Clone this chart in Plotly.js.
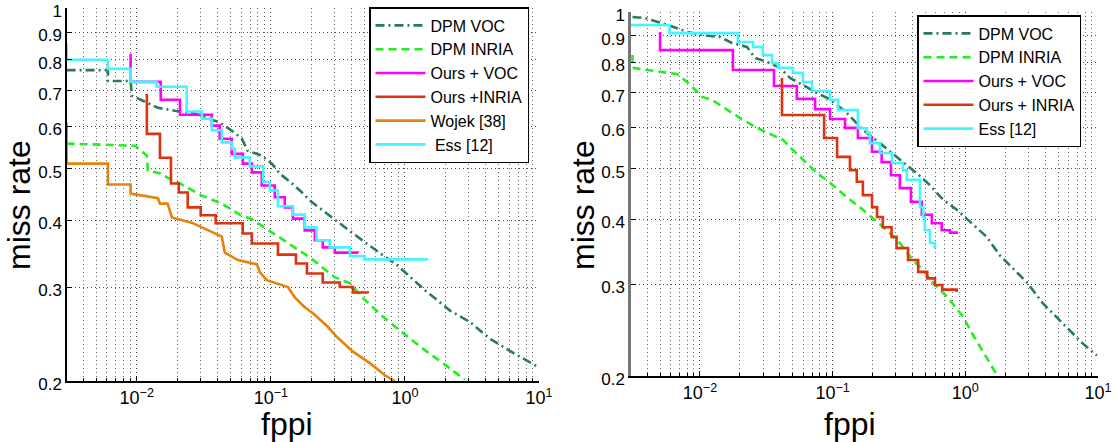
<!DOCTYPE html>
<html>
<head>
<meta charset="utf-8">
<script src="https://cdn.plot.ly/plotly-3.0.1.min.js"></script>
<style>html,body{margin:0;padding:0;background:#fff;}#chart{width:1116px;height:442px;}</style>
</head>
<body>
<div id="chart"></div>
<script>
// ---------- Left panel data ----------
const dpmVocL_x = [0.0030, 0.0061, 0.0061, 0.0090, 0.0092, 0.0144, 0.0192, 0.0262, 0.0416, 0.0512, 0.0608, 0.0672, 0.0856, 0.1017, 0.117, 0.144, 0.171, 0.195, 0.286, 0.410, 0.686, 0.871, 1.41, 2.17, 3.05, 4.31, 6.38, 9.7];
const dpmVocL_y = [0.765, 0.765, 0.730, 0.730, 0.685, 0.650, 0.642, 0.636, 0.610, 0.589, 0.569, 0.540, 0.529, 0.511, 0.489, 0.469, 0.451, 0.436, 0.405, 0.378, 0.344, 0.330, 0.296, 0.271, 0.258, 0.240, 0.226, 0.213];

const dpmInriaL_x = [0.0030, 0.0097, 0.0119, 0.0121, 0.0149, 0.0170, 0.0210, 0.0306, 0.0431, 0.0587, 0.0722, 0.0856, 0.102, 0.121, 0.158, 0.195, 0.300, 0.389, 0.479, 0.686, 0.967, 1.46, 2.07, 2.80];
const dpmInriaL_y = [0.557, 0.552, 0.529, 0.496, 0.490, 0.481, 0.469, 0.445, 0.430, 0.410, 0.402, 0.391, 0.380, 0.370, 0.354, 0.341, 0.313, 0.305, 0.287, 0.264, 0.246, 0.227, 0.213, 0.201];

const oursVocL_x = [0.009, 0.009, 0.0151, 0.021, 0.0363, 0.0416, 0.0512, 0.0619, 0.0722, 0.0856, 0.107, 0.127, 0.146, 0.179, 0.213, 0.244, 0.300, 0.444];
const oursVocL_y = [0.821, 0.727, 0.673, 0.631, 0.602, 0.569, 0.533, 0.511, 0.492, 0.465, 0.442, 0.423, 0.403, 0.383, 0.367, 0.356, 0.348, 0.347];

const oursInriaL_x = [0.0119, 0.0119, 0.0149, 0.018, 0.0206, 0.024, 0.030, 0.0388, 0.0617, 0.0722, 0.113, 0.154, 0.186, 0.244, 0.327, 0.41, 0.53];
const oursInriaL_y = [0.690, 0.581, 0.524, 0.469, 0.451, 0.423, 0.409, 0.395, 0.378, 0.362, 0.345, 0.332, 0.318, 0.306, 0.300, 0.293, 0.292];

const wojekL_x = [0.0030, 0.0030, 0.0061, 0.0061, 0.0090, 0.0090, 0.0144, 0.0149, 0.0170, 0.0183, 0.0257, 0.0306, 0.0363, 0.0431, 0.0454, 0.0567, 0.0786, 0.0828, 0.0933, 0.134, 0.151, 0.179, 0.206, 0.265, 0.31, 0.41, 0.548, 0.71, 0.84];
const wojekL_y = [0.610, 0.511, 0.511, 0.467, 0.467, 0.449, 0.440, 0.430, 0.430, 0.405, 0.396, 0.388, 0.380, 0.373, 0.348, 0.337, 0.331, 0.320, 0.309, 0.300, 0.287, 0.275, 0.268, 0.253, 0.242, 0.227, 0.216, 0.205, 0.200];

const essL_x = [0.0030, 0.0030, 0.0061, 0.0090, 0.0141, 0.0236, 0.0306, 0.0363, 0.0431, 0.0512, 0.0539, 0.0697, 0.0876, 0.0984, 0.113, 0.146, 0.179, 0.219, 0.275, 0.389, 0.50, 1.46];
const essL_y = [0.860, 0.800, 0.769, 0.727, 0.712, 0.640, 0.620, 0.590, 0.560, 0.545, 0.525, 0.505, 0.472, 0.455, 0.425, 0.410, 0.388, 0.367, 0.356, 0.343, 0.338, 0.337];

// ---------- Right panel data ----------
const dpmVocR_x = [0.0031, 0.0038, 0.0052, 0.0063, 0.0081, 0.0105, 0.0142, 0.0174, 0.0226, 0.0260, 0.0320, 0.0401, 0.0477, 0.0597, 0.0737, 0.0907, 0.108, 0.128, 0.170, 0.227, 0.303, 0.431, 0.541, 0.680, 0.863, 1.03, 1.45, 1.82, 2.90, 3.83, 5.42, 7.66, 9.8];
const dpmVocR_y = [0.978, 0.974, 0.952, 0.936, 0.915, 0.903, 0.895, 0.872, 0.857, 0.816, 0.802, 0.781, 0.747, 0.724, 0.702, 0.684, 0.663, 0.640, 0.593, 0.560, 0.527, 0.490, 0.465, 0.436, 0.417, 0.400, 0.370, 0.341, 0.303, 0.276, 0.253, 0.231, 0.219];

const dpmInriaR_x = [0.0031, 0.0031, 0.0040, 0.0053, 0.0067, 0.0080, 0.0089, 0.0104, 0.0123, 0.0149, 0.0200, 0.0269, 0.0355, 0.0422, 0.0502, 0.0597, 0.0761, 0.0955, 0.128, 0.169, 0.201, 0.256, 0.321, 0.402, 0.478, 0.569, 0.728, 0.96, 1.14, 1.40, 1.73];
const dpmInriaR_y = [0.827, 0.781, 0.774, 0.767, 0.760, 0.734, 0.714, 0.687, 0.678, 0.657, 0.626, 0.599, 0.580, 0.568, 0.543, 0.520, 0.491, 0.470, 0.441, 0.417, 0.402, 0.381, 0.360, 0.334, 0.320, 0.302, 0.284, 0.260, 0.240, 0.220, 0.201];

const oursVocR_x = [0.0050, 0.0050, 0.0177, 0.0361, 0.0537, 0.0737, 0.0955, 0.124, 0.155, 0.198, 0.234, 0.275, 0.321, 0.389, 0.470, 0.559, 0.664, 0.766, 0.88];
const oursVocR_y = [0.915, 0.845, 0.774, 0.721, 0.681, 0.651, 0.623, 0.599, 0.573, 0.539, 0.515, 0.486, 0.459, 0.432, 0.408, 0.393, 0.381, 0.377, 0.377];

const oursInriaR_x = [0.0415, 0.0415, 0.0862, 0.108, 0.135, 0.152, 0.169, 0.198, 0.216, 0.239, 0.278, 0.303, 0.370, 0.441, 0.516, 0.59, 0.67, 0.86];
const oursInriaR_y = [0.747, 0.634, 0.573, 0.527, 0.497, 0.472, 0.445, 0.422, 0.404, 0.386, 0.370, 0.352, 0.334, 0.317, 0.308, 0.299, 0.293, 0.290];

const essR_x = [0.0030, 0.0059, 0.0193, 0.0251, 0.0298, 0.0349, 0.0387, 0.0502, 0.0597, 0.0698, 0.0955, 0.110, 0.155, 0.181, 0.191, 0.227, 0.280, 0.338, 0.362, 0.455, 0.48, 0.495, 0.541, 0.59];
const essR_y = [0.944, 0.911, 0.876, 0.857, 0.827, 0.798, 0.781, 0.764, 0.734, 0.705, 0.678, 0.648, 0.598, 0.586, 0.560, 0.536, 0.513, 0.497, 0.476, 0.422, 0.404, 0.381, 0.360, 0.352];

// ---------- Ticks / labels ----------
const xTickVals = [0.01, 0.1, 1, 10];
const xTickText = ['10<sup>−2</sup>', '10<sup>−1</sup>', '10<sup>0</sup>', '10<sup>1</sup>'];
const xMinorVals = [0.004,0.005,0.006,0.007,0.008,0.009, 0.02,0.03,0.04,0.05,0.06,0.07,0.08,0.09, 0.2,0.3,0.4,0.5,0.6,0.7,0.8,0.9, 2,3,4,5,6,7,8,9];
const yTickVals = [0.2,0.3,0.4,0.5,0.6,0.7,0.8,0.9,1];
const yTickText = ['0.2','0.3','0.4','0.5','0.6','0.7','0.8','0.9','1'];

const namesL = ['DPM VOC', 'DPM INRIA', 'Ours + VOC', 'Ours +INRIA', 'Wojek [38]', '\u00a0Ess [12]'];
const namesR = ['DPM VOC', 'DPM INRIA', 'Ours + VOC', 'Ours + INRIA', 'Ess [12]'];

const C = {
  dpmVoc: '#2b7a58', dpmInria: '#22ee22', oursVoc: '#ff00ff',
  oursInria: '#dd3311', wojek: '#e8820c', ess: '#44f4ff'
};
const W = 2.6;

function tr(x, y, name, color, dash, shape, xa, ya, lg) {
  return {
    x: x, y: y, name: name, type: 'scatter', mode: 'lines',
    line: {color: color, width: W, dash: dash, shape: shape},
    xaxis: xa, yaxis: ya, legend: lg, hoverinfo: 'x+y+name'
  };
}

const traces = [
  tr(dpmVocL_x, dpmVocL_y, namesL[0], C.dpmVoc, '9px,4px,2px,4px', 'linear', 'x', 'y', 'legend'),
  tr(dpmInriaL_x, dpmInriaL_y, namesL[1], C.dpmInria, '8px,5px', 'linear', 'x', 'y', 'legend'),
  tr(oursVocL_x, oursVocL_y, namesL[2], C.oursVoc, 'solid', 'hv', 'x', 'y', 'legend'),
  tr(oursInriaL_x, oursInriaL_y, namesL[3], C.oursInria, 'solid', 'hv', 'x', 'y', 'legend'),
  tr(wojekL_x, wojekL_y, namesL[4], C.wojek, 'solid', 'linear', 'x', 'y', 'legend'),
  tr(essL_x, essL_y, namesL[5], C.ess, 'solid', 'hv', 'x', 'y', 'legend'),

  tr(dpmVocR_x, dpmVocR_y, namesR[0], C.dpmVoc, '9px,4px,2px,4px', 'linear', 'x2', 'y2', 'legend2'),
  tr(dpmInriaR_x, dpmInriaR_y, namesR[1], C.dpmInria, '8px,5px', 'linear', 'x2', 'y2', 'legend2'),
  tr(oursVocR_x, oursVocR_y, namesR[2], C.oursVoc, 'solid', 'hv', 'x2', 'y2', 'legend2'),
  tr(oursInriaR_x, oursInriaR_y, namesR[3], C.oursInria, 'solid', 'hv', 'x2', 'y2', 'legend2'),
  tr(essR_x, essR_y, namesR[4], C.ess, 'solid', 'hv', 'x2', 'y2', 'legend2')
];

const FW = 1116, FH = 442;
const gridDash = '1px,3px';
function xAxis(domain, anchor) {
  return {
    type: 'log', domain: domain, anchor: anchor, range: [-2.52, 1],
    tickmode: 'array', tickvals: xTickVals, ticktext: xTickText,
    ticks: 'inside', ticklen: 5, tickcolor: '#000',
    showline: true, linecolor: '#000', linewidth: 1.5, mirror: false,
    showgrid: true, gridcolor: '#444', griddash: gridDash, gridwidth: 1,
    zeroline: false, tickfont: {size: 18, color: '#000'},
    ticklabeloverflow: 'allow',
    minor: {tickmode: 'array', tickvals: xMinorVals, ticks: 'inside', ticklen: 3, tickcolor: '#000',
            showgrid: true, gridcolor: '#666', griddash: gridDash, gridwidth: 1},
    fixedrange: true
  };
}
function yAxis(domain, anchor, lc, lw) {
  return {
    type: 'log', domain: domain, anchor: anchor, range: [Math.log10(0.2), 0],
    tickmode: 'array', tickvals: yTickVals, ticktext: yTickText,
    ticks: 'inside', ticklen: 5, tickcolor: '#000',
    showline: true, linecolor: lc, linewidth: lw, mirror: false,
    showgrid: true, gridcolor: '#444', griddash: gridDash, gridwidth: 1,
    zeroline: false, tickfont: {size: 17, color: '#000'},
    ticklabeloverflow: 'allow', ticklabelshift: 3,
    fixedrange: true
  };
}

const legendBase = {
  xanchor: 'left', yanchor: 'top',
  bgcolor: '#fff', bordercolor: '#000', borderwidth: 1.5,
  font: {size: 16, color: '#000'}, itemwidth: 50, tracegroupgap: 0
};

const layout = {
  width: FW, height: FH,
  margin: {l: 0, r: 0, t: 0, b: 0},
  paper_bgcolor: '#fff', plot_bgcolor: '#fff',
  font: {family: '"Liberation Sans", Arial, Helvetica, sans-serif', size: 17, color: '#000'},
  showlegend: true,
  xaxis: xAxis([67/FW, 539/FW], 'y'),
  yaxis: yAxis([1 - 381/FH, 1 - 8/FH], 'x', '#000', 1.5),
  xaxis2: xAxis([631/FW, 1098/FW], 'y2'),
  yaxis2: yAxis([1 - 376/FH, 1 - 12/FH], 'x2', '#777', 2.5),
  legend: Object.assign({}, legendBase, {x: 369/FW, y: 1 - 7/FH}),
  legend2: Object.assign({}, legendBase, {x: 917/FW, y: 1 - 15/FH}),
  annotations: [
    {text: 'miss rate', xref: 'paper', yref: 'paper', x: 19/FW, y: 1 - 205/FH,
     textangle: -90, showarrow: false, xanchor: 'center', yanchor: 'middle', font: {size: 32, color: '#000'}},
    {text: 'miss rate', xref: 'paper', yref: 'paper', x: 583/FW, y: 1 - 205/FH,
     textangle: -90, showarrow: false, xanchor: 'center', yanchor: 'middle', font: {size: 32, color: '#000'}},
    {text: 'fppi', xref: 'paper', yref: 'paper', x: 287/FW, y: 1 - 424/FH,
     showarrow: false, xanchor: 'center', yanchor: 'middle', font: {size: 32, color: '#000'}},
    {text: 'fppi', xref: 'paper', yref: 'paper', x: 850/FW, y: 1 - 424/FH,
     showarrow: false, xanchor: 'center', yanchor: 'middle', font: {size: 32, color: '#000'}}
  ]
};

Plotly.newPlot('chart', traces, layout, {displayModeBar: false, responsive: false});
</script>
</body>
</html>
